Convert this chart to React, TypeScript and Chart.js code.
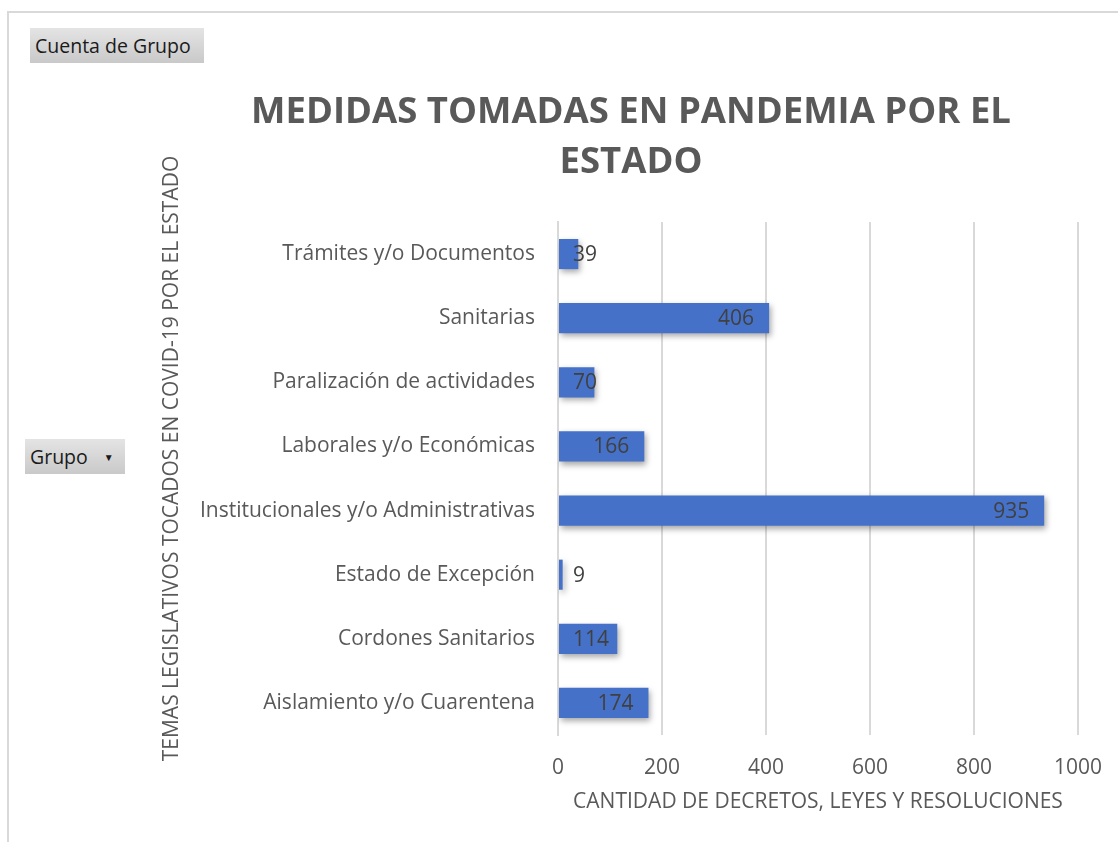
import React, { useEffect, useRef } from "react";
import { Chart, registerables } from "chart.js";

Chart.register(...registerables);

const categories = [
  "Trámites y/o Documentos",
  "Sanitarias",
  "Paralización de actividades",
  "Laborales y/o Económicas",
  "Institucionales y/o Administrativas",
  "Estado de Excepción",
  "Cordones Sanitarios",
  "Aislamiento y/o Cuarentena",
];
const counts = [39, 406, 70, 166, 935, 9, 114, 174];
const titleLines = ["MEDIDAS TOMADAS EN PANDEMIA POR EL", "ESTADO"];
const yTitle = "TEMAS LEGISLATIVOS TOCADOS EN COVID-19 POR EL ESTADO";
const xTitle = "CANTIDAD DE DECRETOS, LEYES Y RESOLUCIONES";
const xTicks = [0, 200, 400, 600, 800, 1000];

const FONT = "'Open Sans', 'Noto Sans', sans-serif";
const GRAY = "#595959";

const decorPlugin = {
  id: "decor",
  beforeDatasetsDraw(chart: any) {
    const ctx = chart.ctx;
    ctx.save();
    ctx.shadowColor = "rgba(0,0,0,0.35)";
    ctx.shadowBlur = 6;
    ctx.shadowOffsetX = 2;
    ctx.shadowOffsetY = 3;
  },
  afterDatasetsDraw(chart: any) {
    const ctx = chart.ctx;
    ctx.restore();
    const meta = chart.getDatasetMeta(0);
    const xs = chart.scales.x;
    const zero = xs.getPixelForValue(0);
    ctx.save();
    ctx.font = `21px ${FONT}`;
    ctx.fillStyle = "#404040";
    ctx.textBaseline = "middle";
    ctx.textAlign = "left";
    meta.data.forEach((bar: any, i: number) => {
      const txt = String(counts[i]);
      const w = ctx.measureText(txt).width;
      const x = Math.max(zero + 15, bar.x - 15 - w);
      ctx.fillText(txt, x, bar.y + 1);
    });
    ctx.restore();
  },
  afterDraw(chart: any) {
    const ctx = chart.ctx;
    const ca = chart.chartArea;
    ctx.save();
    ctx.font = `bold 36.5px ${FONT}`;
    ctx.fillStyle = GRAY;
    ctx.textAlign = "center";
    ctx.textBaseline = "middle";
    const cx = 631;
    titleLines.forEach((line, i) => {
      ctx.fillText(line, cx, ca.top - 109 + i * 50);
    });
    ctx.font = `21px ${FONT}`;
    ctx.translate(172, (ca.top + ca.bottom) / 2 - 20);
    ctx.rotate(-Math.PI / 2);
    ctx.fillText(yTitle, 0, 0);
    ctx.restore();
  },
};

const btnStyle: React.CSSProperties = {
  position: "absolute",
  background: "linear-gradient(#e4e4e4, #c9c9c9)",
  color: "#1a1a1a",
  font: `19.5px ${FONT}`,
  display: "flex",
  alignItems: "center",
  boxSizing: "border-box",
  paddingLeft: 5,
};

export default function App() {
  const ref = useRef<HTMLCanvasElement>(null);
  useEffect(() => {
    if (!ref.current) return;
    const chart = new Chart(ref.current, {
      type: "bar",
      data: {
        labels: categories,
        datasets: [
          {
            data: counts,
            backgroundColor: "#4571c8",
            borderWidth: 0,
            barPercentage: 0.47,
            categoryPercentage: 1,
          },
        ],
      },
      plugins: [decorPlugin],
      options: {
        indexAxis: "y",
        animation: false,
        responsive: false,
        maintainAspectRatio: false,
        layout: { padding: { left: 150, right: 40, top: 222, bottom: 0 } },
        plugins: {
          legend: { display: false },
          tooltip: { enabled: false },
          title: { display: false },
        },
        scales: {
          x: {
            min: 0,
            max: 1000,
            afterBuildTicks(scale: any) {
              scale.ticks = xTicks.map((v) => ({ value: v }));
            },
            afterFit(scale: any) {
              scale.height = 107;
              scale.paddingLeft = 0;
              scale.paddingRight = 0;
            },
            grid: {
              color: "#d9d9d9",
              lineWidth: 2,
              drawTicks: false,
            },
            border: { display: false },
            ticks: {
              color: GRAY,
              font: { family: FONT, size: 21 },
              padding: 20,
              callback: (v: any) => String(v),
            },
            title: {
              display: true,
              text: xTitle,
              color: GRAY,
              font: { family: FONT, size: 21 },
              padding: { top: 27, bottom: 27 },
            },
          },
          y: {
            afterFit(scale: any) {
              scale.width = 408;
              scale.paddingTop = 0;
              scale.paddingBottom = 0;
            },
            grid: { display: false, drawTicks: false },
            border: { display: true, color: "#d9d9d9", width: 2 },
            ticks: {
              color: GRAY,
              font: { family: FONT, size: 21 },
              padding: 23,
            },
          },
        },
      },
    });
    return () => chart.destroy();
  }, []);

  return (
    <div
      style={{
        position: "fixed",
        left: 0,
        top: 0,
        width: 1118,
        height: 842,
        background: "#fff",
        overflow: "hidden",
      }}
    >
      <div
        style={{
          position: "absolute",
          left: 7,
          top: 11,
          width: 1111,
          height: 831,
          borderTop: "2px solid #d9d9d9",
          borderLeft: "2px solid #d9d9d9",
          boxSizing: "border-box",
        }}
      />
      <canvas ref={ref} width={1118} height={842} style={{ position: "absolute", left: 0, top: 0 }} />
      <div style={{ ...btnStyle, left: 30, top: 28, width: 174, height: 35 }}>Cuenta de Grupo</div>
      <div style={{ ...btnStyle, left: 25, top: 439, width: 100, height: 35 }}>
        Grupo
        <span style={{ fontSize: 10, marginLeft: 16 }}>▼</span>
      </div>
    </div>
  );
}
